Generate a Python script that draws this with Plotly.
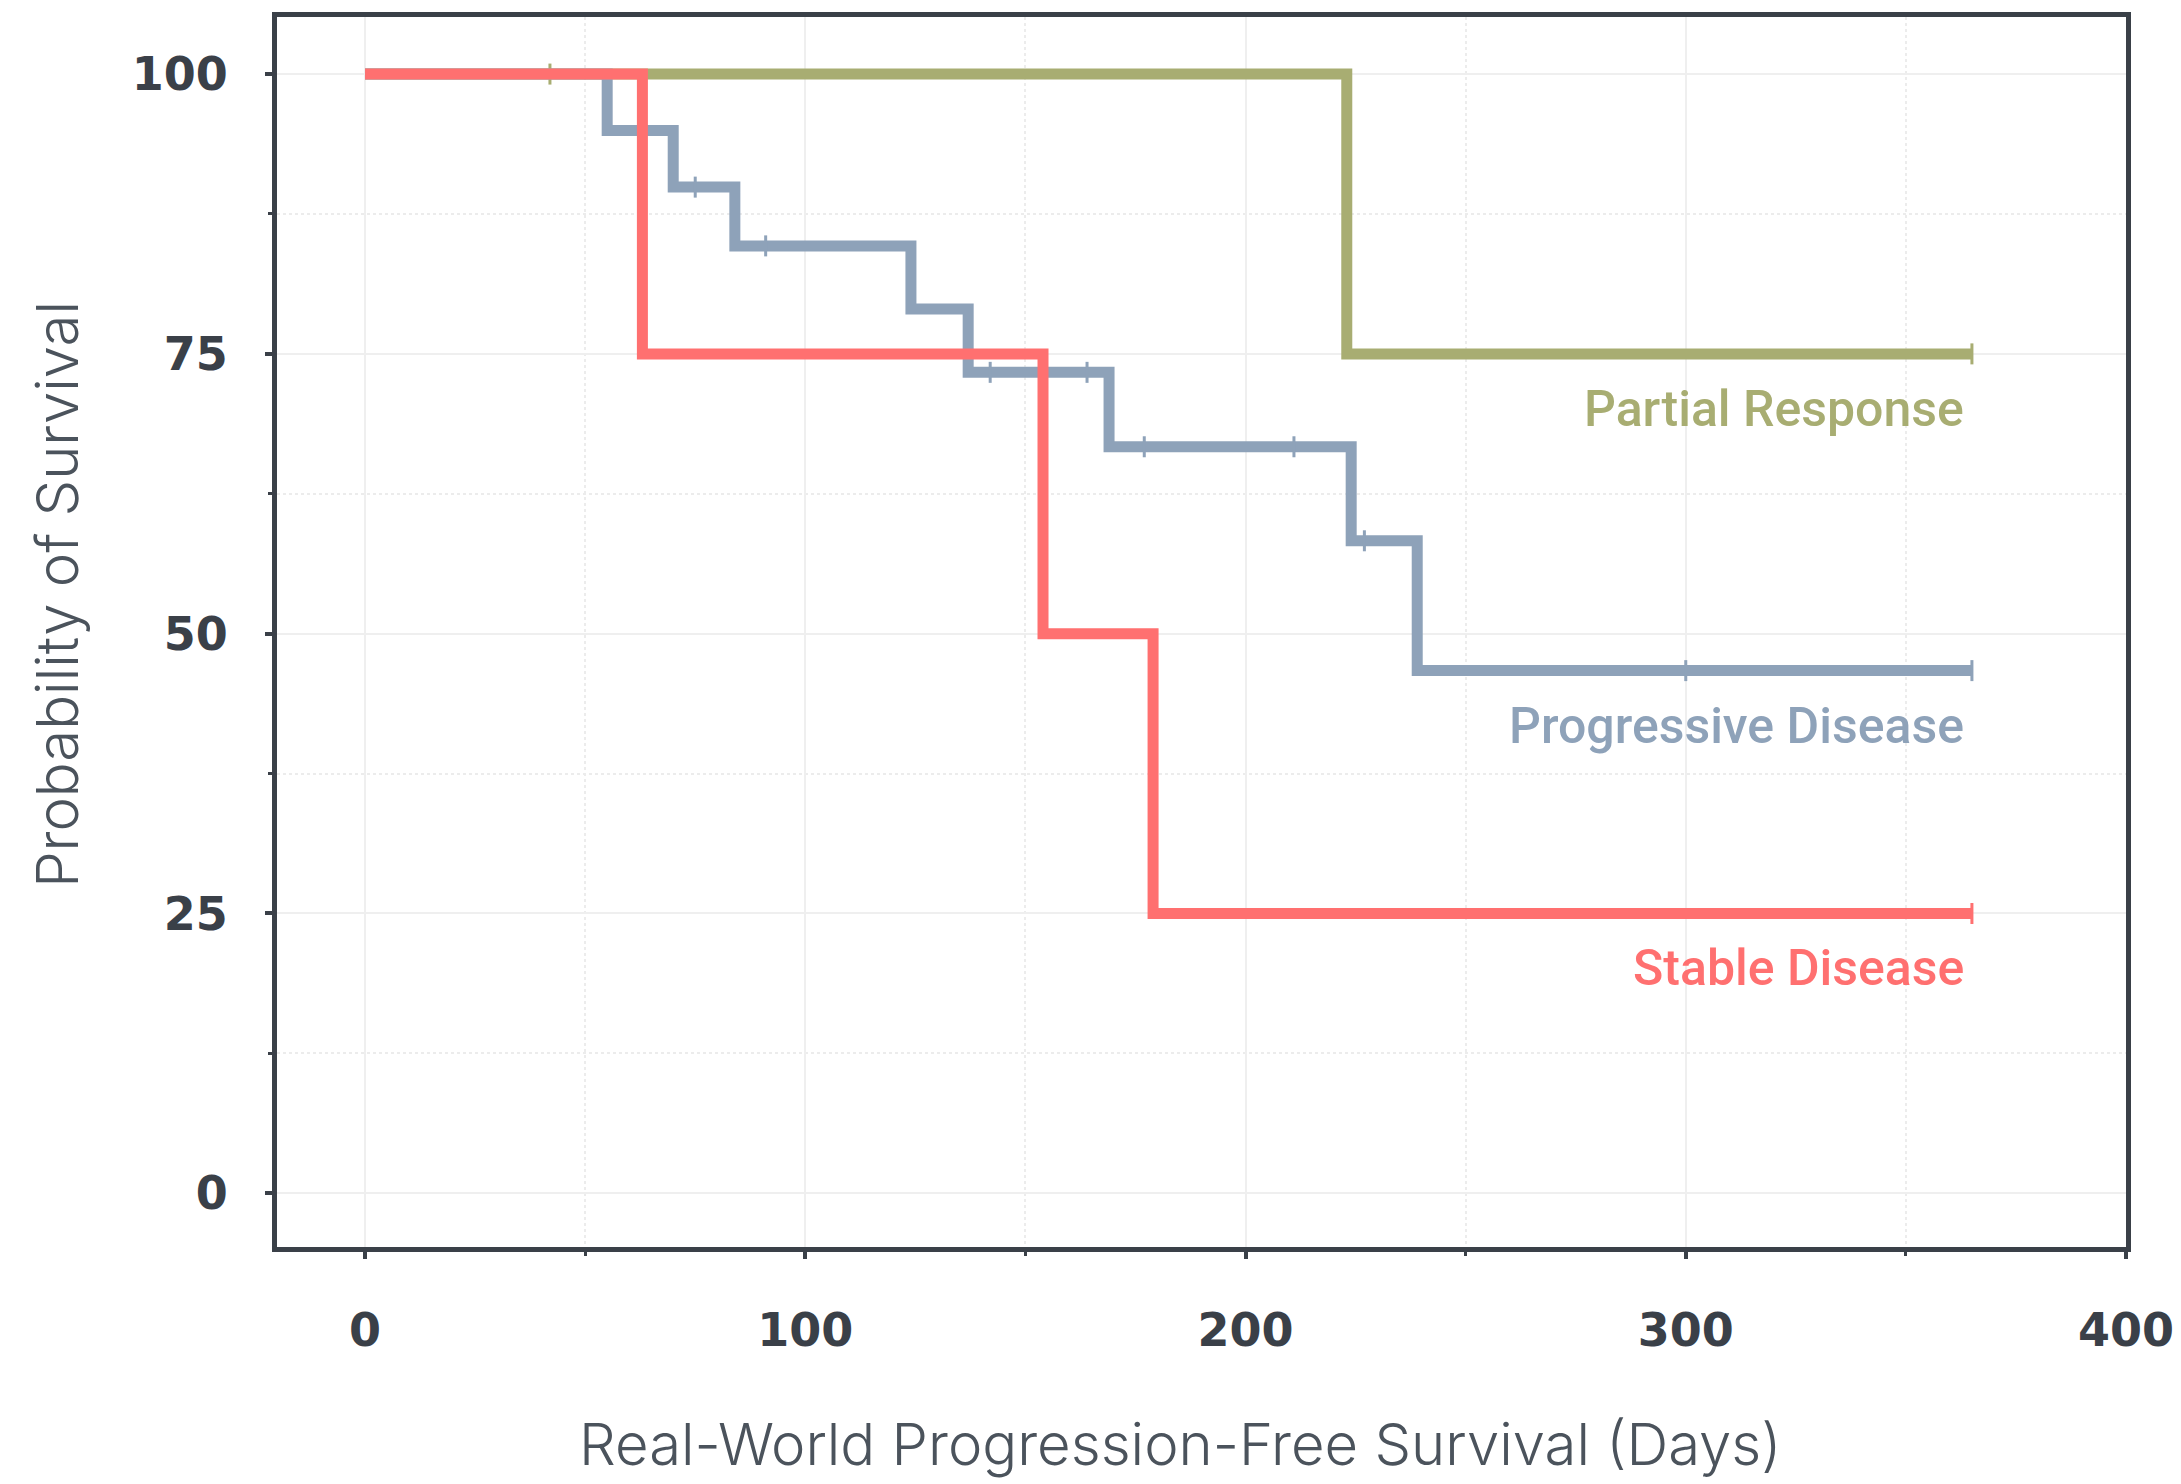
import plotly.graph_objects as go

# ---- data ----
partial_t = [0, 223, 365]
partial_s = [100, 75, 75]
partial_censor = [42, 365]

prog_t = [0, 55, 70, 84, 124, 137, 169, 224, 239, 365]
prog_s = [100, 94.95, 89.9, 84.65, 79.0, 73.35, 66.7, 58.3, 46.7, 46.7]
prog_censor = [75, 91, 142, 164, 177, 211, 227, 300, 365]

stable_t = [0, 63, 154, 179, 365]
stable_s = [100, 75, 50, 25, 25]
stable_censor = [365]

names = ["Partial Response", "Progressive Disease", "Stable Disease"]
colors = ["#a8ad72", "#8ea2b9", "#ff7070"]

x_ticks = [0, 100, 200, 300, 400]
y_ticks = [0, 25, 50, 75, 100]

x_title = "Real-World Progression-Free Survival (Days)"
y_title = "Probability of Survival"

FRAME = "#3a4048"
TICKFONT = dict(family="DejaVu Sans", size=46, color="#3a4048", weight="bold")
TITLEFONT = dict(family="Inter", size=58, color="#4b535c", weight=300)


def step_value(ts, ss, t):
    v = ss[0]
    for ti, si in zip(ts, ss):
        if ti <= t:
            v = si
    return v


fig = go.Figure()
series = [
    (partial_t, partial_s, partial_censor),
    (prog_t, prog_s, prog_censor),
    (stable_t, stable_s, stable_censor),
]
for (ts, ss, cs), name, col in zip(series, names, colors):
    fig.add_trace(go.Scatter(
        x=ts, y=ss, mode="lines", line=dict(color=col, width=11, shape="hv"),
        name=name, showlegend=False, hoverinfo="skip"))
    fig.add_trace(go.Scatter(
        x=cs, y=[step_value(ts, ss, c) for c in cs], mode="markers",
        marker=dict(symbol="line-ns", size=15, line=dict(color=col, width=3)),
        showlegend=False, hoverinfo="skip"))

for (ts, ss, cs), name, col in zip(series, names, colors):
    fig.add_annotation(
        x=ts[-1], y=ss[-1], xref="x", yref="y", text=name, showarrow=False,
        xanchor="right", yanchor="middle", xshift=-6, yshift=-55,
        font=dict(family="Roboto", size=50, color=col, weight=500))

# axis titles as annotations (placed like the reference)
fig.add_annotation(x=0.4883, y=-0.16, xref="paper", yref="paper", text=x_title,
                   showarrow=False, xanchor="center", yanchor="middle", font=TITLEFONT)
fig.add_annotation(x=-0.119, y=0.531, xref="paper", yref="paper", text=y_title,
                   showarrow=False, xanchor="center", yanchor="middle", textangle=-90,
                   font=TITLEFONT)

fig.update_layout(
    width=2181, height=1484,
    margin=dict(l=269, r=63, t=9, b=245, autoexpand=False),
    plot_bgcolor="white", paper_bgcolor="white",
)
fig.update_xaxes(
    range=[-20, 400], tickvals=x_ticks, ticktext=[str(v) for v in x_ticks],
    showline=True, mirror=True, linecolor=FRAME, linewidth=5,
    ticks="outside", ticklen=7, tickwidth=4, tickcolor=FRAME,
    showgrid=True, gridcolor="#efefef", gridwidth=2, zeroline=False,
    minor=dict(dtick=50, ticks="outside", ticklen=4, tickwidth=3, tickcolor=FRAME,
               showgrid=True, gridcolor="#ececec", gridwidth=2, griddash="dot"),
    tickfont=TICKFONT, ticklabelstandoff=32,
    automargin=False,
)
fig.update_yaxes(
    range=[-4.8, 105.1], tickvals=y_ticks, ticktext=[str(v) for v in y_ticks],
    showline=True, mirror=True, linecolor=FRAME, linewidth=5,
    ticks="outside", ticklen=7, tickwidth=4, tickcolor=FRAME,
    showgrid=True, gridcolor="#efefef", gridwidth=2, zeroline=False,
    minor=dict(dtick=12.5, ticks="outside", ticklen=4, tickwidth=3, tickcolor=FRAME,
               showgrid=True, gridcolor="#ececec", gridwidth=2, griddash="dot"),
    tickfont=TICKFONT, ticklabelstandoff=28,
    automargin=False,
)

fig.write_html("out.html")
